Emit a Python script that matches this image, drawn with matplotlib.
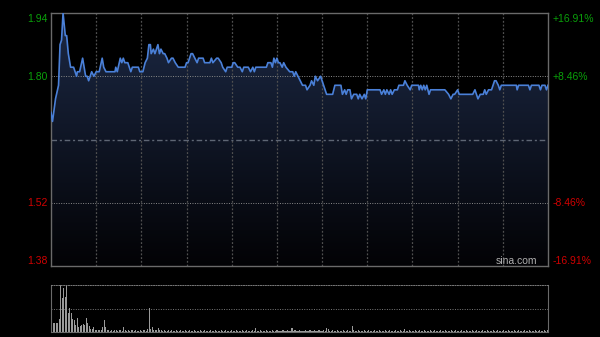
import matplotlib
matplotlib.use("Agg")
import matplotlib.pyplot as plt
import numpy as np

# ---------------- data ----------------
prev_close = 1.66
price_ticks = [1.38, 1.52, 1.66, 1.80, 1.94]
left_labels = ["1.94", "1.80", "1.52", "1.38"]
right_labels = ["+16.91%", "+8.46%", "-8.46%", "-16.91%"]

minutes = [0, 1, 3, 5, 6, 7, 8, 9.5, 10.4, 11.5, 13, 15, 17, 17.5, 19, 21, 21.5, 23, 24, 25,
           27, 28.5, 30, 32, 34, 35, 36.5, 42.5, 43, 44, 46, 47, 48, 49, 51, 53, 54, 58, 59, 61,
           62.5, 64, 65, 66, 66.5, 68, 69, 70, 71, 72, 73, 74.5, 75.5, 77, 78, 80, 81, 82.5, 84.5, 89,
           90, 91, 93, 94, 95.5, 97, 98, 101, 102, 105.5, 106.5, 107.5, 110, 111, 113, 114, 116, 117, 120, 121,
           122, 124, 125.5, 127, 128, 131, 132.5, 134, 135, 136, 143, 144, 146, 147, 148, 149, 150, 151, 152, 153.5,
           154.5, 156, 158.5, 160.5, 161.5, 162.5, 164, 165.5, 167, 169, 170, 172, 173, 174.5, 175.5, 177, 179, 180, 181, 183,
           187, 188.5, 192.5, 193.5, 195, 196, 197, 198.5, 199.5, 201, 203, 204, 205, 206.5, 208, 209, 210, 218.5, 219.5, 221,
           222, 223, 224.5, 225.5, 226.5, 228, 230, 231, 234, 235, 236.5, 238.5, 239.5, 244, 244.5, 245.5, 246.5, 247.5, 248.5, 249.5,
           251, 252, 261.5, 264, 265.5, 267, 268, 270, 271, 280, 281.5, 282.5, 283.5, 285, 287, 288, 289, 290.5, 292.5, 294.5,
           295.5, 297, 298, 299, 309, 309.5, 310.5, 317, 318, 319, 324, 325, 326, 328, 329, 330]
prices = [1.72, 1.70, 1.75, 1.78, 1.87, 1.88, 1.94, 1.89, 1.89, 1.85, 1.82, 1.82, 1.80, 1.81, 1.81, 1.84, 1.83, 1.80, 1.80, 1.79,
          1.81, 1.80, 1.81, 1.81, 1.84, 1.82, 1.81, 1.81, 1.82, 1.81, 1.84, 1.83, 1.84, 1.83, 1.83, 1.81, 1.82, 1.82, 1.81, 1.81,
          1.83, 1.84, 1.87, 1.87, 1.85, 1.86, 1.85, 1.86, 1.87, 1.85, 1.86, 1.85, 1.85, 1.84, 1.83, 1.84, 1.84, 1.83, 1.82, 1.82,
          1.83, 1.83, 1.85, 1.85, 1.84, 1.83, 1.84, 1.84, 1.83, 1.83, 1.84, 1.83, 1.84, 1.84, 1.83, 1.82, 1.81, 1.82, 1.82, 1.83,
          1.83, 1.82, 1.82, 1.81, 1.82, 1.82, 1.81, 1.82, 1.81, 1.82, 1.82, 1.83, 1.83, 1.82, 1.84, 1.83, 1.84, 1.83, 1.83, 1.82,
          1.83, 1.82, 1.81, 1.81, 1.80, 1.81, 1.80, 1.79, 1.78, 1.78, 1.77, 1.78, 1.79, 1.78, 1.80, 1.79, 1.80, 1.79, 1.78, 1.76,
          1.76, 1.78, 1.78, 1.76, 1.77, 1.76, 1.77, 1.77, 1.75, 1.76, 1.76, 1.75, 1.76, 1.75, 1.76, 1.75, 1.77, 1.77, 1.76, 1.77,
          1.76, 1.77, 1.76, 1.77, 1.76, 1.77, 1.77, 1.78, 1.78, 1.79, 1.78, 1.77, 1.78, 1.78, 1.77, 1.78, 1.77, 1.78, 1.77, 1.78,
          1.76, 1.77, 1.77, 1.76, 1.75, 1.76, 1.76, 1.77, 1.76, 1.76, 1.77, 1.76, 1.75, 1.76, 1.76, 1.77, 1.76, 1.77, 1.77, 1.79,
          1.79, 1.78, 1.77, 1.78, 1.78, 1.77, 1.78, 1.78, 1.77, 1.78, 1.78, 1.77, 1.78, 1.78, 1.77, 1.78]

volume = [19, 9, 9, 9, 9, 13, 47, 34, 44, 35, 47, 19, 24, 19, 13, 12, 7, 14, 5, 6,
          7, 8, 7, 14, 9, 6, 3, 3, 5, 2, 2, 2, 2, 2, 5, 12, 5,
          2, 2, 1, 2, 1, 2, 2, 1, 2, 2, 1, 5, 2, 1, 2, 1, 2, 2, 1, 2, 1, 1, 2, 1, 2, 2, 1,
          3, 24, 3, 5, 2, 2, 2, 4, 2,
          2, 1, 2, 1, 1, 2, 1, 2, 1, 1,
          2, 1, 1, 2, 1, 1, 2, 1, 1, 2,
          1, 1, 2, 1, 1, 1, 2, 1, 1, 2,
          1, 1, 1, 2, 1, 1, 2, 1, 1, 1,
          2, 1, 1, 2, 1, 1, 1, 2, 1, 1,
          2, 1, 1, 1, 2, 1, 1, 2, 1, 1,
          1, 2, 1, 4, 1, 1, 2, 1, 1, 1,
          2, 1, 1, 1, 2, 1, 1, 2, 1, 1,
          1, 2, 1, 1, 2, 1, 1, 4, 1, 2,
          1, 1, 2, 1, 1, 1, 2, 1, 1, 2,
          1, 1, 2, 1, 1, 2, 1, 1, 2, 1,
          4, 3, 1, 1, 2, 1, 1, 2, 1, 1,
          1, 2, 1, 1, 2, 1, 1, 6, 2, 1,
          1, 2, 1, 1, 1, 2, 1, 1, 2, 1,
          1, 1, 2, 1, 1, 2, 1, 1, 1, 2,
          1, 1, 2, 1, 1, 1, 2, 1, 1, 2,
          1, 1, 3, 1, 1, 2, 1, 1, 1, 2,
          1, 1, 2, 1, 1, 2, 1, 1, 1, 2,
          1, 1, 2, 1, 1, 1, 2, 1, 1, 2,
          1, 1, 1, 2, 1, 1, 2, 1, 1, 1,
          2, 1, 1, 2, 1, 1, 1, 2, 1, 1,
          2, 1, 1, 1, 2, 1, 1, 2, 1, 1,
          1, 2, 1, 1, 2, 1, 1, 1, 2, 1,
          1, 2, 1, 1, 1, 2, 1, 1, 2, 1,
          1, 1, 2, 1, 1, 2, 1, 1, 1, 2,
          1, 1, 2, 1, 1, 2, 1, 2]
vol_minutes = list(range(len(volume)))

# ---------------- figure ----------------
W, H = 600, 337
fig = plt.figure(figsize=(6.0, 3.37), dpi=100, facecolor="black")
plt.rcParams["font.family"] = ["Liberation Sans", "DejaVu Sans"]

def fx(px):
    return px / W

def fy(py):
    return 1 - py / H

L, R = 51, 548
ax = fig.add_axes([fx(L), fy(266), fx(R) - fx(L), fy(13) - fy(266)])
ax.set_facecolor("black")
ymin, ymax = price_ticks[0], price_ticks[-1]
ax.set_xlim(0, 330)
ax.set_ylim(ymin, ymax)

# gradient fill under the line
poly = ax.fill_between(minutes, prices, ymin, color="none", lw=0)
grad = np.linspace(1, 0, 256).reshape(-1, 1)
top_c = np.array([0.11, 0.16, 0.27])
bot_c = np.array([0.01, 0.01, 0.02])
img = top_c[None, None, :] * grad[:, :, None] + bot_c[None, None, :] * (1 - grad[:, :, None])
im = ax.imshow(img, extent=[0, 330, ymin, ymax], aspect="auto", zorder=1, origin="upper")
path = poly.get_paths()[0]
im.set_clip_path(path, transform=ax.transData)

# grid
for m in range(30, 330, 30):
    ax.axvline(m, color="#505050", lw=0.9, ls=(0, (1.5, 1.5)), zorder=2)
for p in [1.80, 1.52]:
    ax.axhline(p, color="#8a8a8a", lw=0.7, ls=(0, (1, 1.5)), zorder=2)
ax.axhline(prev_close, color="#5e6674", lw=1.0, ls=(0, (4, 2, 1.5, 2)), zorder=2)

ax.plot(minutes, prices, color="#4a80d8", lw=1.2, zorder=3)

for s in ax.spines.values():
    s.set_color("#6a6a6a")
    s.set_linewidth(1.0)
ax.set_xticks([])
ax.set_yticks([])

# labels
label_y = [19, 77, 203, 261]
colors = ["#0aa00a", "#0aa00a", "#d00000", "#d00000"]
for t, r, py, c in zip(left_labels, right_labels, label_y, colors):
    fig.text(fx(47.5), fy(py), t, color=c, fontsize=7.5, ha="right", va="center")
    fig.text(fx(553), fy(py), r, color=c, fontsize=7.5, ha="left", va="center")

fig.text(fx(537), fy(261), "sina.com", color="#b0b0b0", fontsize=7.5, ha="right", va="center")

# volume
axv = fig.add_axes([fx(L), fy(332), fx(R) - fx(L), fy(285) - fy(332)])
axv.set_facecolor("black")
axv.set_xlim(-0.5, 330.5)
axv.set_ylim(0, 47)
axv.bar(vol_minutes, volume, width=0.7, color="#9a9a9a", lw=0, zorder=2)
axv.axhline(23.5, color="#7a7a7a", lw=0.7, ls=(0, (1, 1.5)), zorder=1)
axv.set_xticks([])
axv.set_yticks([])
for k in ["left", "right", "bottom"]:
    axv.spines[k].set_color("#6a6a6a")
axv.spines["top"].set_color("#7a7a7a")
axv.spines["top"].set_linestyle((0, (1, 1.5)))
axv.spines["top"].set_linewidth(0.7)

fig.savefig("out.png", dpi=100, facecolor="black")
